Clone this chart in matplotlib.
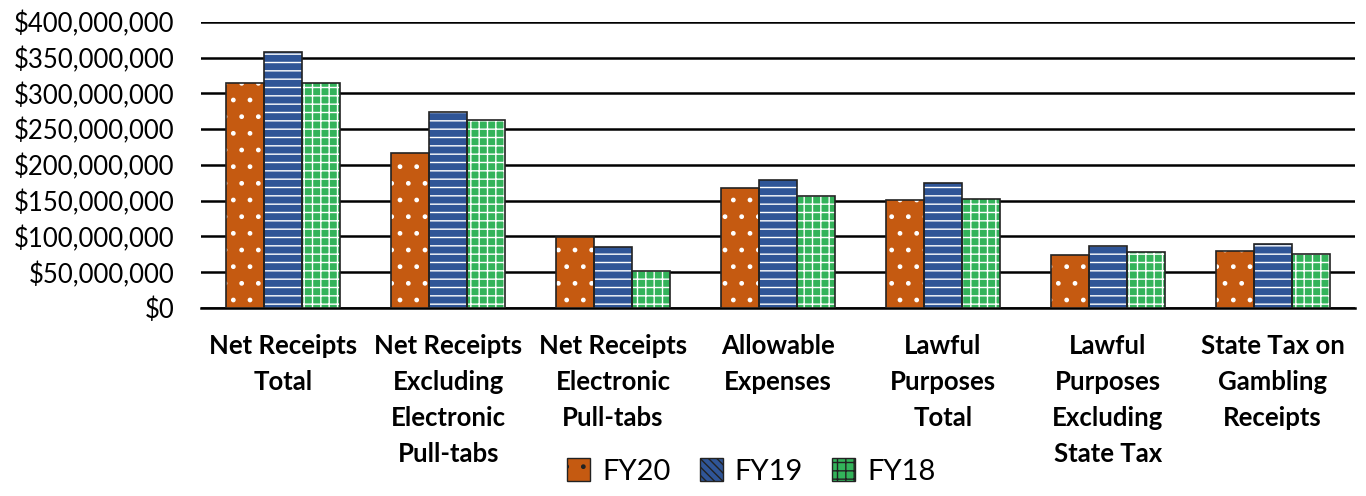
import numpy as np
import matplotlib
matplotlib.use("Agg")
import matplotlib.pyplot as plt
from matplotlib.patches import Patch
from matplotlib.ticker import FuncFormatter

categories = [
    "Net Receipts\nTotal",
    "Net Receipts\nExcluding\nElectronic\nPull-tabs",
    "Net Receipts\nElectronic\nPull-tabs",
    "Allowable\nExpenses",
    "Lawful\nPurposes\nTotal",
    "Lawful\nPurposes\nExcluding\nState Tax",
    "State Tax on\nGambling\nReceipts",
]
series_names = ["FY20", "FY19", "FY18"]
fy20 = [315e6, 217e6, 99e6, 168e6, 151e6, 74e6, 80e6]
fy19 = [358e6, 274e6, 85e6, 179e6, 175e6, 87e6, 89e6]
fy18 = [314e6, 263e6, 52e6, 157e6, 152e6, 78e6, 76e6]

colors = ["#C55A11", "#2F5597", "#33B35A"]
hatches = [".", "--", "++"]

plt.rcParams["font.family"] = ["Lato", "DejaVu Sans"]
plt.rcParams["hatch.linewidth"] = 1.0

fig = plt.figure(figsize=(13.66, 4.96), dpi=100)
ax = fig.add_axes([0.147, 0.379, 0.845, 0.577])

x = np.arange(len(categories))
w = 0.23
for i, (vals, c, h) in enumerate(zip([fy20, fy19, fy18], colors, hatches)):
    pos = x + (i - 1) * w
    ax.bar(pos, vals, w, color=c, edgecolor="white", hatch=h, linewidth=0, zorder=3)
    ax.bar(pos, vals, w, fill=False, edgecolor="#222222", linewidth=1.2, zorder=4)

ax.set_ylim(0, 400e6)
ax.set_xlim(-0.5, len(categories) - 0.5)
ax.set_yticks(np.arange(0, 400e6 + 1, 50e6))
ax.yaxis.set_major_formatter(FuncFormatter(lambda v, p: f"${v:,.0f}"))
ax.grid(axis="y", color="black", linewidth=1.8, zorder=0)
ax.set_axisbelow(True)
for s in ["left", "right", "top"]:
    ax.spines[s].set_visible(False)
ax.spines["bottom"].set_linewidth(1.8)
ax.tick_params(axis="y", length=0, labelsize=18.5, pad=19)
ax.tick_params(axis="x", length=0, pad=19)
ax.set_xticks(x)
ax.set_xticklabels(categories, fontsize=18.5, fontweight="bold", linespacing=1.6)

handles = [Patch(facecolor=c, edgecolor="#222222", hatch=h) for c, h in zip(colors, [".", "\\\\\\\\", "++"])]
leg = fig.legend(handles, series_names, loc="lower center", bbox_to_anchor=(0.55, -0.03),
                 ncol=3, frameon=False, fontsize=21, handlelength=0.8, handleheight=0.8,
                 handletextpad=0.4, columnspacing=1.0)

fig.savefig("out.png", dpi=100)
